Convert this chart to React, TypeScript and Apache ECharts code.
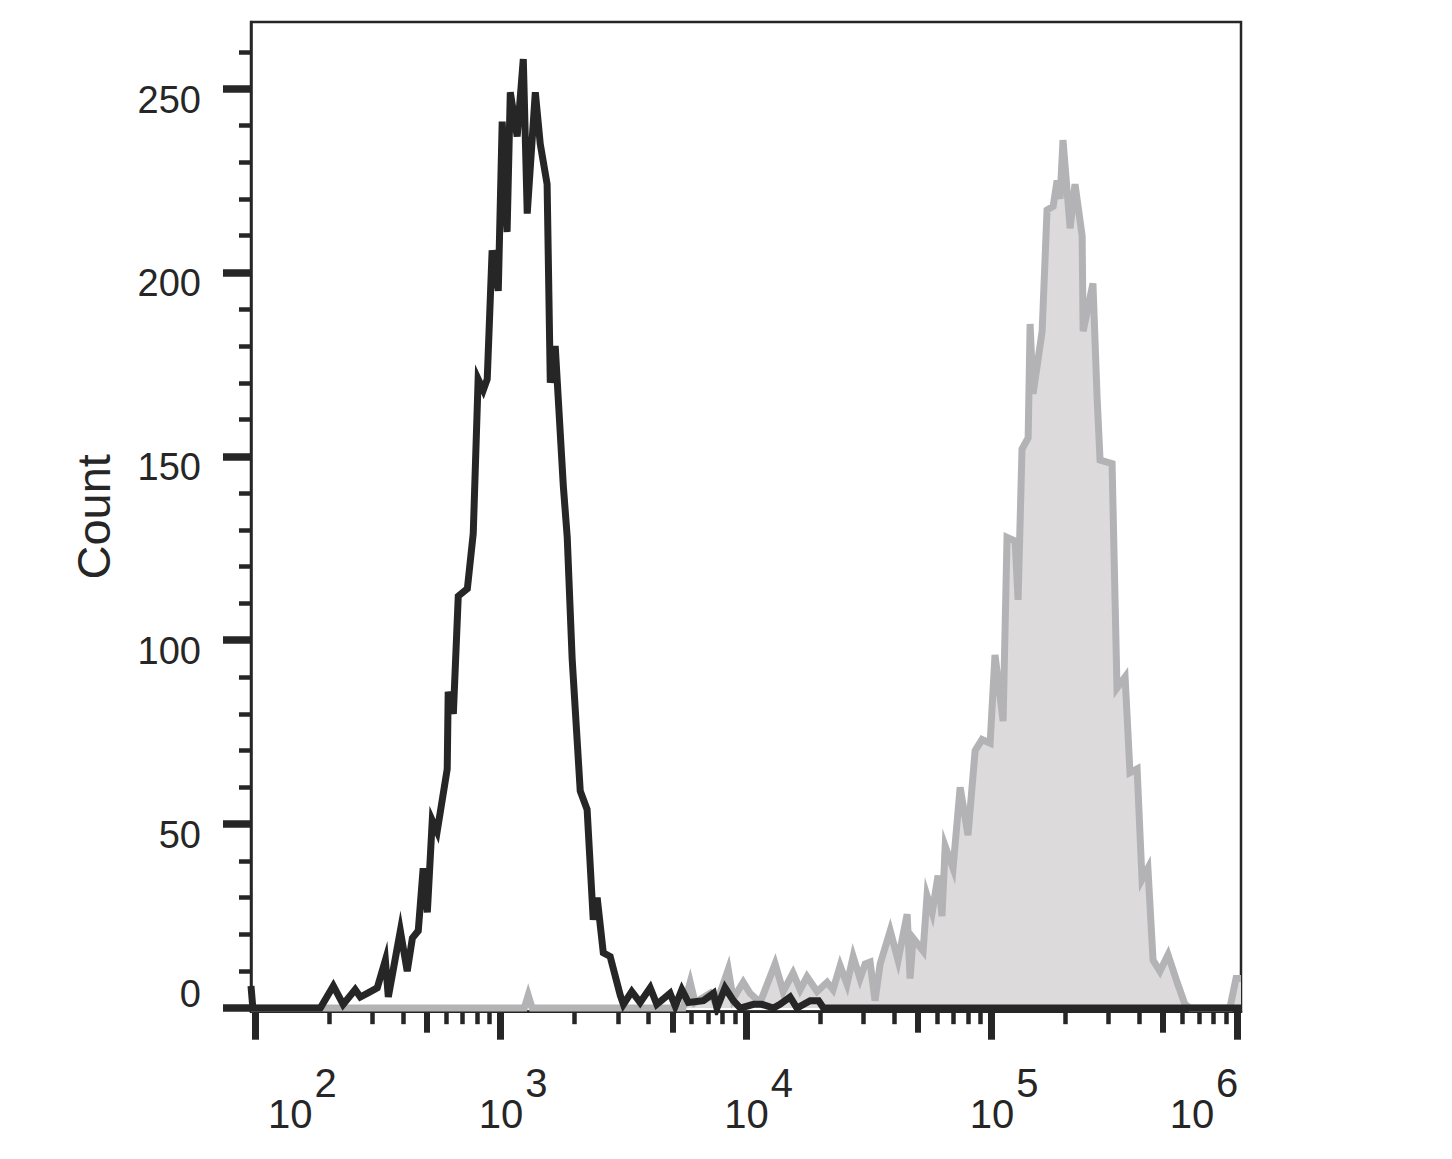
import { useEffect, useRef } from "react";
import * as echarts from "echarts";

const FONT = '"Liberation Sans", Arial, Helvetica, sans-serif';
const INK = "#262626";
const GRAY_LINE = "#b3b3b5";
const GRAY_FILL = "#dcdadb";

// x axis in decades (log10 of intensity)
const xMinExp = 1.9825;
const xMaxExp = 6.0163;
const yMin = -1.0;
const yMax = 268.1;

const decadeExponents = [2, 3, 4, 5, 6];
const midMultiplier = 5;
const minorMultipliers = [2, 3, 4, 6, 7, 8, 9];
const countMajorTicks = [0, 50, 100, 150, 200, 250];
const countMinorTicks = [10, 20, 30, 40, 60, 70, 80, 90, 110, 120, 130, 140, 160, 170, 180, 190, 210, 220, 230, 240, 260];

// Black (control) histogram
const blackExp = [
  1.9825, 1.99, 2.265, 2.318, 2.358, 2.407, 2.428, 2.456, 2.497, 2.53, 2.542, 2.591, 2.619, 2.64, 2.664,
  2.684, 2.701, 2.721, 2.741, 2.782, 2.786, 2.807, 2.827, 2.864, 2.888, 2.908, 2.929, 2.945, 2.965, 2.99,
  3.006, 3.026, 3.039, 3.067, 3.092, 3.108, 3.141, 3.161, 3.189, 3.202, 3.222, 3.255, 3.271, 3.291, 3.324,
  3.352, 3.377, 3.393, 3.418, 3.446, 3.487, 3.5, 3.534, 3.568, 3.609, 3.636, 3.69, 3.711, 3.738, 3.765,
  3.826, 3.867, 3.881, 3.914, 3.948, 3.976, 4.03, 4.064, 4.111, 4.138, 4.179, 4.207, 4.261, 4.295, 4.315,
  6.0163,
];
const blackCount = [
  6, 0, 0, 6, 1, 5, 3, 4, 5.5, 13, 3, 21, 10, 19, 21,
  38, 26, 51, 48, 65, 86, 80, 112, 114, 129, 171, 168, 171, 206, 195,
  241, 211, 249, 237, 258, 216, 249, 235, 224, 170, 180, 142, 128, 95, 59,
  54, 24, 30, 15, 14, 3.5, 1, 4.5, 1.5, 5.5, 1, 4, 0.5, 5, 1.5,
  2, 4, 0, 5.5, 2, 0, 1, 1, 0, 1, 3, 0, 2, 2, 0,
  0,
];

// Gray (stained) histogram
const grayExp = [
  1.9825, 3.096, 3.112, 3.128, 3.743, 3.772, 3.792, 3.853, 3.878, 3.927, 3.947, 3.988, 4.016, 4.057, 4.118,
  4.151, 4.191, 4.22, 4.248, 4.289, 4.33, 4.354, 4.383, 4.411, 4.436, 4.464, 4.485, 4.505, 4.525, 4.546,
  4.587, 4.619, 4.656, 4.668, 4.68, 4.721, 4.737, 4.758, 4.782, 4.798, 4.811, 4.843, 4.872, 4.904, 4.933,
  4.961, 4.994, 5.014, 5.047, 5.063, 5.096, 5.108, 5.124, 5.149, 5.157, 5.169, 5.206, 5.226, 5.251, 5.267,
  5.279, 5.291, 5.32, 5.34, 5.369, 5.373, 5.413, 5.43, 5.442, 5.491, 5.511, 5.544, 5.564, 5.593, 5.613,
  5.637, 5.658, 5.686, 5.719, 5.756, 5.788, 5.809, 5.971, 5.996, 6.0163,
];
const grayCount = [
  0, 0, 3.5, 0, 0, 7, 1.5, 4, 1, 10.5, 2.5, 7, 4, 1.5, 12,
  4.5, 9.5, 5, 8.5, 4.5, 7, 5, 11.5, 6.5, 14, 8, 12, 12.5, 2, 12,
  21, 13, 25.5, 8, 19, 15.5, 30.5, 26, 36, 25, 44, 38, 60, 47, 70,
  73, 72, 96, 78, 128, 127, 111, 152, 155, 186, 167, 184, 217, 218, 225,
  220, 236, 212, 224, 210, 184, 197, 166, 149, 148, 87, 90, 64, 65, 35,
  38, 13, 10, 14.5, 7, 1, 0, 0, 8, 8,
];

const midTicks = decadeExponents.slice(0, -1).map((d) => d + Math.log10(midMultiplier));
const minorTicks = decadeExponents
  .slice(0, -1)
  .flatMap((d) => minorMultipliers.map((m) => d + Math.log10(m)));

const zip = (xs: number[], ys: number[]) => xs.map((x, i) => [x, ys[i]]);

function buildOption() {
  const gridRect = { left: 251, right: 211, top: 22, bottom: 147.3 };
  const hiddenY = (gridIndex: number) => ({
    type: "value",
    gridIndex,
    min: yMin,
    max: yMax,
    axisLine: { show: false },
    axisTick: { show: false },
    axisLabel: { show: false },
    splitLine: { show: false },
  });
  const mainTok = (padLeft: number) => ({
    fontSize: 40,
    lineHeight: 71,
    fontFamily: FONT,
    color: INK,
    padding: [31, 0, 0, padLeft],
  });
  const supTok = (padRight: number) => ({
    fontSize: 40,
    lineHeight: 40,
    fontFamily: FONT,
    color: INK,
    verticalAlign: "top",
    padding: [0, padRight, 0, 2],
  });
  return {
    animation: false,
    backgroundColor: "#ffffff",
    grid: [
      { ...gridRect, show: true, borderColor: INK, borderWidth: 2.5, backgroundColor: "transparent" },
      { ...gridRect },
      { ...gridRect },
    ],
    xAxis: [
      {
        type: "value",
        gridIndex: 0,
        min: xMinExp,
        max: xMaxExp,
        position: "bottom",
        axisLine: { show: true, onZero: false, lineStyle: { color: INK, width: 2.5 } },
        axisTick: { show: true, customValues: decadeExponents, length: 28, lineStyle: { color: INK, width: 7 } },
        axisLabel: {
          show: true,
          customValues: decadeExponents,
          margin: 51,
          color: INK,
          fontFamily: FONT,
          formatter: (v: number) => {
            const n = Math.round(v);
            const last = decadeExponents[decadeExponents.length - 1];
            const a = n === decadeExponents[0] ? "a0" : n === last ? "a6" : "a";
            const s = n === last ? "s6" : "s";
            return `{${a}|10}{${s}|${n}}`;
          },
          rich: {
            a: mainTok(25),
            a0: mainTok(94),
            a6: mainTok(0),
            s: supTok(0),
            s6: supTok(66),
          },
        },
        splitLine: { show: false },
      },
      {
        type: "value",
        gridIndex: 1,
        min: xMinExp,
        max: xMaxExp,
        position: "bottom",
        axisLine: { show: false, onZero: false },
        axisTick: { show: true, customValues: midTicks, length: 21, lineStyle: { color: INK, width: 6 } },
        axisLabel: { show: false },
        splitLine: { show: false },
      },
      {
        type: "value",
        gridIndex: 2,
        min: xMinExp,
        max: xMaxExp,
        position: "bottom",
        axisLine: { show: false, onZero: false },
        axisTick: { show: true, customValues: minorTicks, length: 12.5, lineStyle: { color: INK, width: 4.5 } },
        axisLabel: { show: false },
        splitLine: { show: false },
      },
    ],
    yAxis: [
      {
        type: "value",
        gridIndex: 0,
        min: yMin,
        max: yMax,
        name: "Count",
        nameLocation: "middle",
        nameGap: 134,
        nameTextStyle: { fontSize: 47, fontFamily: FONT, color: INK },
        axisLine: { show: true, onZero: false, lineStyle: { color: INK, width: 2.5 } },
        axisTick: { show: true, customValues: countMajorTicks, length: 28, lineStyle: { color: INK, width: 7.5 } },
        axisLabel: {
          show: true,
          customValues: countMajorTicks,
          margin: 50,
          color: INK,
          fontFamily: FONT,
          formatter: (v: number) => (v === 0 ? `{z|0}` : `{n|${v}}`),
          rich: {
            n: { fontSize: 38, lineHeight: 38, fontFamily: FONT, color: INK, padding: [22, 0, 0, 0] },
            z: { fontSize: 38, lineHeight: 38, fontFamily: FONT, color: INK, padding: [0, 0, 28, 0] },
          },
        },
        splitLine: { show: false },
      },
      {
        type: "value",
        gridIndex: 1,
        min: yMin,
        max: yMax,
        axisLine: { show: false, onZero: false },
        axisTick: { show: true, customValues: countMinorTicks, length: 12, lineStyle: { color: INK, width: 4.5 } },
        axisLabel: { show: false },
        splitLine: { show: false },
      },
      hiddenY(2),
    ],
    series: [
      {
        type: "line",
        name: "stained",
        xAxisIndex: 0,
        yAxisIndex: 0,
        data: zip(grayExp, grayCount),
        symbol: "none",
        lineStyle: { color: GRAY_LINE, width: 7, join: "miter", miterLimit: 6 },
        areaStyle: { color: GRAY_FILL, opacity: 1 },
        z: 2,
      },
      {
        type: "line",
        name: "control",
        xAxisIndex: 0,
        yAxisIndex: 0,
        data: zip(blackExp, blackCount),
        symbol: "none",
        lineStyle: { color: INK, width: 7, join: "miter", miterLimit: 6 },
        z: 3,
      },
    ],
  };
}

export default function App() {
  const ref = useRef<HTMLDivElement>(null);
  useEffect(() => {
    const chart = echarts.init(ref.current!, null, { renderer: "svg" });
    chart.setOption(buildOption() as any);
    return () => chart.dispose();
  }, []);
  return (
    <div
      ref={ref}
      style={{ position: "absolute", left: 0, top: 0, width: 1452, height: 1159, background: "#fff" }}
    />
  );
}
